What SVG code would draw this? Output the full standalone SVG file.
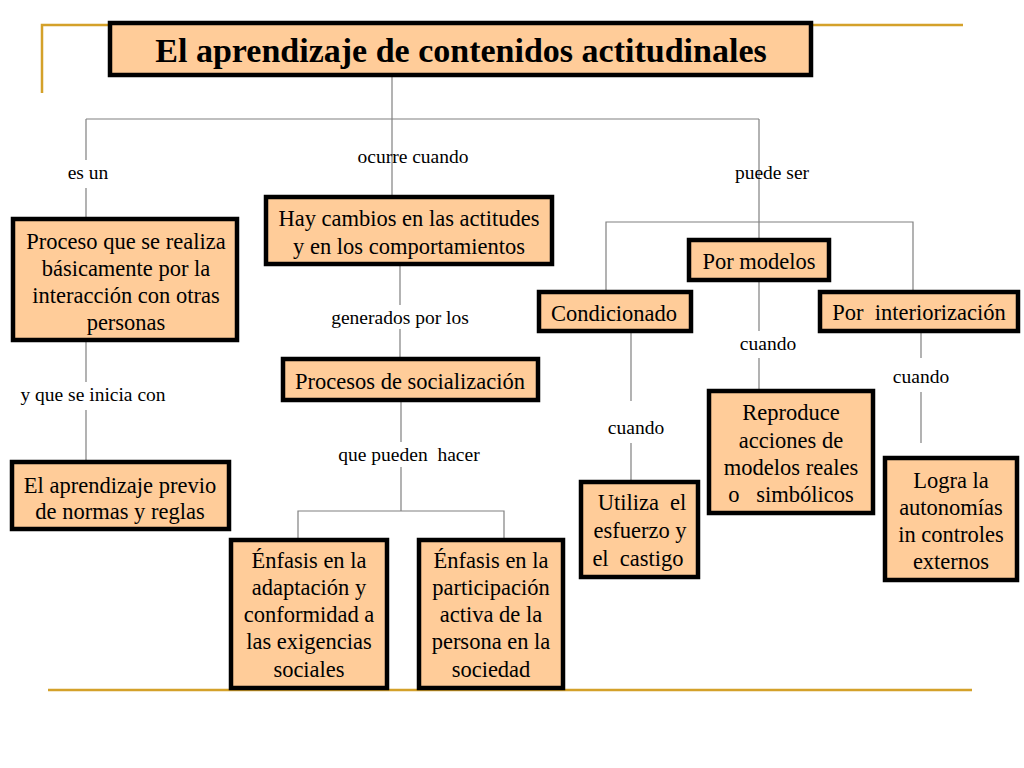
<svg xmlns="http://www.w3.org/2000/svg" width="1024" height="768" viewBox="0 0 1024 768">
<style>
.bx{fill:#FFCC99;stroke:#000;stroke-width:4.5}
.t{font-family:"Liberation Serif","Times New Roman",serif;font-size:22.5px;fill:#000;text-anchor:middle;white-space:pre}
.ttl{font-family:"Liberation Serif","Times New Roman",serif;font-size:34px;font-weight:bold;fill:#000;text-anchor:middle}
.lb{font-family:"Liberation Serif","Times New Roman",serif;font-size:19.5px;fill:#000;text-anchor:middle;white-space:pre}
.c{stroke:#808080;stroke-width:1.2;fill:none}
.g{stroke:#D4A12A;stroke-width:2.5;fill:none}
</style>
<rect width="1024" height="768" fill="#fff"/>
<g id="decor">
<path class="g" d="M42,93 V25 H963"/>
<path class="g" d="M48,690 H972"/>
</g>
<g id="connectors">
<path class="c" d="M392,76 V197"/>
<path class="c" d="M86,119 H759"/>
<path class="c" d="M86,119 V160 M86,188 V219"/>
<path class="c" d="M759,119 V240"/>
<path class="c" d="M606,292 V222 H913 V292"/>
<path class="c" d="M400,264 V305 M400,329 V359"/>
<path class="c" d="M86,340 V382 M86,410 V462"/>
<path class="c" d="M401,400 V442 M401,467 V511 M298,540 V511 H504 V540"/>
<path class="c" d="M631,331 V401 M631,443 V482"/>
<path class="c" d="M759,280 V331 M759,358 V391"/>
<path class="c" d="M921,331 V358 M921,392 V443"/>
</g>
<g id="title">
<rect class="bx" x="110" y="23" width="701" height="52"/>
<text class="ttl" x="461" y="62">El aprendizaje de contenidos actitudinales</text>
</g>
<g id="proceso">
<rect class="bx" x="13" y="219" width="224" height="121"/>
<text class="t" x="126" y="249">Proceso que se realiza</text>
<text class="t" x="126" y="276">básicamente por la</text>
<text class="t" x="126" y="303">interacción con otras</text>
<text class="t" x="126" y="330">personas</text>
</g>
<g id="cambios">
<rect class="bx" x="266" y="197" width="286" height="67"/>
<text class="t" x="409" y="226">Hay cambios en las actitudes</text>
<text class="t" x="409" y="254">y en los comportamientos</text>
</g>
<g id="modelos">
<rect class="bx" x="689" y="240" width="140" height="40"/>
<text class="t" x="759" y="269">Por modelos</text>
</g>
<g id="condicionado">
<rect class="bx" x="539" y="292" width="152" height="39"/>
<text class="t" x="614" y="321">Condicionado</text>
</g>
<g id="interiorizacion">
<rect class="bx" x="820" y="292" width="198" height="39"/>
<text class="t" x="919" y="320">Por  interiorización</text>
</g>
<g id="socializacion">
<rect class="bx" x="283" y="359" width="255" height="41"/>
<text class="t" x="410" y="389">Procesos de socialización</text>
</g>
<g id="previo">
<rect class="bx" x="12" y="462" width="217" height="67"/>
<text class="t" x="120" y="493">El aprendizaje previo</text>
<text class="t" x="120" y="519">de normas y reglas</text>
</g>
<g id="adaptacion">
<rect class="bx" x="231" y="540" width="156" height="148"/>
<text class="t" x="309" y="568">Énfasis en la</text>
<text class="t" x="309" y="595">adaptación y</text>
<text class="t" x="309" y="622">conformidad a</text>
<text class="t" x="309" y="649">las exigencias</text>
<text class="t" x="309" y="677">sociales</text>
</g>
<g id="participacion">
<rect class="bx" x="419" y="540" width="144" height="148"/>
<text class="t" x="491" y="568">Énfasis en la</text>
<text class="t" x="491" y="595">participación</text>
<text class="t" x="491" y="622">activa de la</text>
<text class="t" x="491" y="649">persona en la</text>
<text class="t" x="491" y="677">sociedad</text>
</g>
<g id="utiliza">
<rect class="bx" x="581" y="482" width="117" height="95"/>
<text class="t" x="642" y="510">Utiliza  el</text>
<text class="t" x="640" y="538">esfuerzo y</text>
<text class="t" x="638" y="566">el  castigo</text>
</g>
<g id="reproduce">
<rect class="bx" x="709" y="391" width="164" height="122"/>
<text class="t" x="791" y="420">Reproduce</text>
<text class="t" x="791" y="448">acciones de</text>
<text class="t" x="791" y="475">modelos reales</text>
<text class="t" x="791" y="502">o   simbólicos</text>
</g>
<g id="logra">
<rect class="bx" x="885" y="458" width="132" height="122"/>
<text class="t" x="951" y="488">Logra la</text>
<text class="t" x="951" y="515">autonomías</text>
<text class="t" x="951" y="542">in controles</text>
<text class="t" x="951" y="569">externos</text>
</g>
<g id="labels">
<text class="lb" x="88" y="179">es un</text>
<text class="lb" x="413" y="163">ocurre cuando</text>
<text class="lb" x="772" y="179">puede ser</text>
<text class="lb" x="400" y="324">generados por los</text>
<text class="lb" x="93" y="401">y que se inicia con</text>
<text class="lb" x="409" y="461">que pueden  hacer</text>
<text class="lb" x="768" y="350">cuando</text>
<text class="lb" x="636" y="434">cuando</text>
<text class="lb" x="921" y="383">cuando</text>
</g>
</svg>
